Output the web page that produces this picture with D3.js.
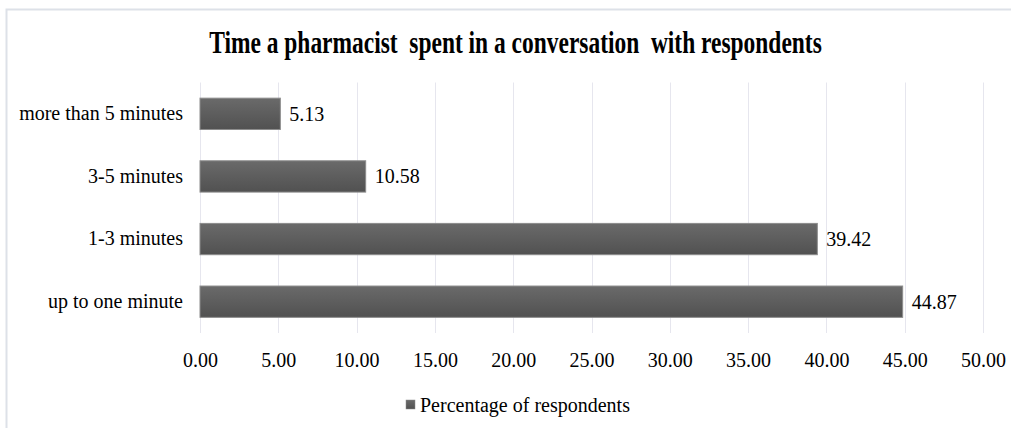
<!DOCTYPE html>
<html>
<head>
<meta charset="utf-8">
<script src="https://cdn.jsdelivr.net/npm/d3@7"></script>
<style>
  html, body { margin: 0; padding: 0; background: #fff; }
  svg { display: block; }
  text { font-family: "Liberation Serif", "Times New Roman", serif; fill: #000; }
</style>
</head>
<body>
<svg id="chart" width="1011" height="428"></svg>
<script>
// Survey results: how long the pharmacist talked with respondents (%)
const categories = ["more than 5 minutes", "3-5 minutes", "1-3 minutes", "up to one minute"];
const percentages = [5.13, 10.58, 39.42, 44.87];
const xTicks = [0, 5, 10, 15, 20, 25, 30, 35, 40, 45, 50];
const seriesName = "Percentage of respondents";
const chartTitle = "Time a pharmacist  spent in a conversation  with respondents";

const svg = d3.select("#chart");
const W = 1011, H = 428;

// chart frame (only top and left edges fall inside the canvas)
svg.append("rect")
  .attr("x", 6.5).attr("y", 9.5)
  .attr("width", W + 20).attr("height", H + 20)
  .attr("fill", "#fff")
  .attr("stroke", "#dde1e8").attr("stroke-width", 2);

const plot = { left: 200, right: 983, top: 82.5, bottom: 333 };

const x = d3.scaleLinear().domain([0, 50]).range([plot.left, plot.right]);
const y = d3.scaleBand().domain(categories).range([plot.top, plot.bottom]).paddingInner(0.5).paddingOuter(0.25);

// bar fill gradient
const defs = svg.append("defs");
const grad = defs.append("linearGradient").attr("id", "barGrad")
  .attr("x1", 0).attr("y1", 0).attr("x2", 0).attr("y2", 1);
grad.append("stop").attr("offset", "0%").attr("stop-color", "#6a6a6a");
grad.append("stop").attr("offset", "100%").attr("stop-color", "#515151");

// vertical gridlines
svg.append("g")
  .selectAll("line")
  .data(xTicks)
  .join("line")
  .attr("x1", d => Math.round(x(d)) + 0.5)
  .attr("x2", d => Math.round(x(d)) + 0.5)
  .attr("y1", plot.top)
  .attr("y2", plot.bottom)
  .attr("stroke", "#e6e6ee")
  .attr("stroke-width", 1);

// x axis labels
const xAxis = d3.axisBottom(x).tickValues(xTicks).tickFormat(d3.format(".2f")).tickSize(0).tickPadding(0);
const gx = svg.append("g").attr("transform", `translate(0, 360)`).call(xAxis);
gx.select(".domain").remove();
gx.selectAll("text")
  .attr("dy", "0.35em")
  .attr("font-size", 20)
  .style("font-family", "'Liberation Serif', serif")
  .attr("fill", "#000");

// y axis labels
const yAxis = d3.axisLeft(y).tickSize(0).tickPadding(17);
const gy = svg.append("g").attr("transform", `translate(${plot.left}, 0)`).call(yAxis);
gy.select(".domain").remove();
gy.selectAll("text")
  .attr("font-size", 20)
  .style("font-family", "'Liberation Serif', serif")
  .attr("fill", "#000");

// bars
svg.append("g")
  .selectAll("rect")
  .data(categories)
  .join("rect")
  .attr("x", x(0))
  .attr("y", d => y(d))
  .attr("width", (d, i) => x(percentages[i]) - x(0))
  .attr("height", y.bandwidth())
  .attr("fill", "url(#barGrad)")
  .attr("stroke", "#8c8c8c")
  .attr("stroke-width", 1);

// value labels
svg.append("g")
  .selectAll("text")
  .data(categories)
  .join("text")
  .attr("x", (d, i) => x(percentages[i]) + 9)
  .attr("y", d => y(d) + y.bandwidth() / 2)
  .attr("dy", "0.35em")
  .attr("font-size", 20)
  .text((d, i) => percentages[i].toFixed(2));

// title: tall bold serif, condensed horizontally to a fixed width
const titleWidth = 613;
const title = svg.append("text")
  .attr("text-anchor", "middle")
  .attr("font-size", 31)
  .attr("font-weight", "bold")
  .style("white-space", "pre")
  .text(chartTitle);
const natural = title.node().getComputedTextLength();
title.attr("transform", `translate(515.5, 53) scale(${titleWidth / natural}, 1)`);

// legend
const legend = svg.append("g");
legend.append("rect")
  .attr("x", 406).attr("y", 400)
  .attr("width", 9).attr("height", 9)
  .attr("fill", "url(#barGrad)")
  .attr("stroke", "#8c8c8c").attr("stroke-width", 0.5);
legend.append("text")
  .attr("x", 420).attr("y", 405)
  .attr("dy", "0.35em")
  .attr("font-size", 20)
  .text(seriesName);
</script>
</body>
</html>
